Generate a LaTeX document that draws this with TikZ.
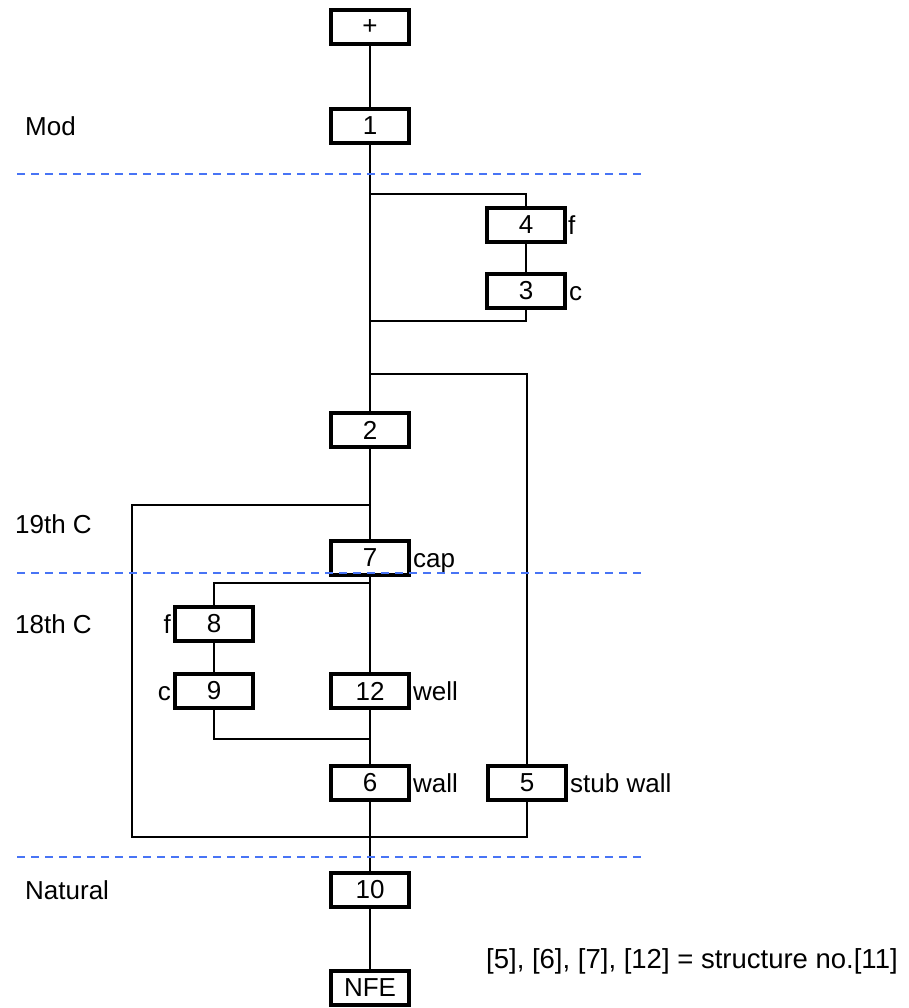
\documentclass[tikz,border=0pt]{standalone}
\usepackage{fontspec}
\setmainfont{Liberation Sans}
\definecolor{sepblue}{RGB}{72,116,245}
\newcommand{\fsz}{\fontsize{26}{30}\selectfont}
\newcommand{\fsn}{\fontsize{27.5}{32}\selectfont}
\begin{document}
\begin{tikzpicture}[x=1pt,y=-1pt,
  box/.style={draw, line width=3.2pt, minimum width=78pt, minimum height=34pt, inner sep=0pt, font=\fsz},
  conn/.style={line width=1.4pt},
  sepline/.style={draw=sepblue, line width=2pt, dash pattern=on 8pt off 6pt},
  lab/.style={font=\fsz, inner sep=0pt, anchor=base west},
  labl/.style={font=\fsz, inner sep=0pt, anchor=base east}]
\useasboundingbox (0,0) rectangle (908,1008);
% boxes
\node[box] (plus) at (370,27) {+};
\node[box] (b1) at (370,126) {1};
\node[box] (b4) at (526,225) {4};
\node[box] (b3) at (526,291) {3};
\node[box] (b2) at (370,430) {2};
\node[box] (b7) at (370,558) {7};
\node[box] (b8) at (214,624) {8};
\node[box] (b9) at (214,691) {9};
\node[box] (b12) at (370,691) {12};
\node[box] (b6) at (370,783) {6};
\node[box] (b5) at (527,783) {5};
\node[box] (b10) at (370,890) {10};
\node[box] (nfe) at (370,988) {NFE};
% side labels
\node[lab] (lf4) at (568,234) {f};
\node[lab] (lc3) at (569,300) {c};
\node[lab] (lcap) at (413,567) {cap};
\node[labl] (lf8) at (171,633) {f};
\node[labl] (lc9) at (171,700) {c};
\node[lab] (lwell) at (413,700) {well};
\node[lab] (lwall) at (413,792) {wall};
\node[lab] (lstub) at (570,792) {stub wall};
% period labels
\node[lab] (mod) at (25,136) {Mod};
\node[lab] (c19) at (15,533) {19th C};
\node[lab] (c18) at (15,633) {18th C};
\node[lab] (nat) at (25,899) {Natural};
\node[lab, font=\fsn] (note) at (486,968) {[5], [6], [7], [12] = structure no.[11]};
% junction coordinates
\coordinate (ja1) at (370,194);
\coordinate (ja2) at (370,321);
\coordinate (jb) at (370,374);
\coordinate (jc1) at (370,505);
\coordinate (jc2) at (132,837);
\coordinate (jd1) at (370,583);
\coordinate (jd2) at (370,739);
% main line
\draw[conn] (plus) -- (b1);
\draw[conn] (b1) -- (b2);
\draw[conn] (b2) -- (b7);
\draw[conn] (b7) -- (b12);
\draw[conn] (b12) -- (b6);
\draw[conn] (b6) -- (b10);
\draw[conn] (b10) -- (nfe);
% branches
\draw[conn] (ja1) -| (b4.north);
\draw[conn] (b4) -- (b3);
\draw[conn] (b3.south) |- (ja2);
\draw[conn] (jb) -| (b5.north);
\draw[conn] (jc1) -| (jc2) -| (b5.south);
\draw[conn] (jd1) -| (b8.north);
\draw[conn] (b8) -- (b9);
\draw[conn] (b9.south) |- (jd2);
% separators
\coordinate (s1a) at (17,174); \coordinate (s1b) at (642,174);
\coordinate (s2a) at (17,573); \coordinate (s2b) at (642,573);
\coordinate (s3a) at (17,857); \coordinate (s3b) at (642,857);
\draw[sepline] (s1a) -- (s1b);
\draw[sepline] (s2a) -- (s2b);
\draw[sepline] (s3a) -- (s3b);
\end{tikzpicture}
\end{document}
